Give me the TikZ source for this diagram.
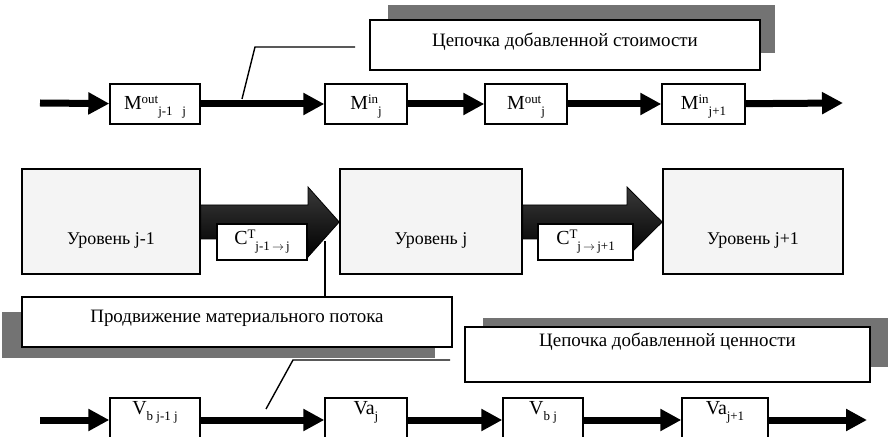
\documentclass[tikz,border=0pt]{standalone}
\usepackage{fontspec}
\setmainfont{Liberation Serif}
\usetikzlibrary{arrows.meta,calc}
\newcommand\spx[1]{\raisebox{0.75ex}{\fontsize{13}{14}\selectfont #1}}
\newcommand\sbx[1]{\raisebox{-0.55ex}{\fontsize{13}{14}\selectfont #1}}
\definecolor{shadowc}{gray}{0.45}
\tikzset{
  flow/.style={line width=7bp, -{Triangle[length=21bp,width=21bp]}},
  mbox/.style={draw, line width=1.4bp, fill=white, inner xsep=2bp, font=\fontsize{20}{22}\selectfont},
  topbox/.style={mbox, minimum height=40bp, inner ysep=4bp, text height=22bp, text depth=10bp},
  botbox/.style={mbox, minimum height=44bp, inner ysep=3bp, text height=14bp, text depth=24bp},
  cbox/.style={mbox, minimum height=36bp, inner ysep=3bp, text height=18bp, text depth=12bp},
  level/.style={draw, line width=1.6bp, fill=gray!9, minimum height=105bp, inner ysep=5bp, text height=71bp, text depth=24bp, font=\fontsize{18}{20}\selectfont},
  banner/.style={draw, line width=1.4bp, fill=white, font=\fontsize{19}{21}\selectfont},
  callout/.style={line width=1.4bp},
  bigarrow/.style={top color=gray!45!black, bottom color=black, draw=black, line width=0.8bp}
}
\begin{document}
\begin{tikzpicture}[x=1bp,y=-1bp]
\useasboundingbox[fill=white] (0,0) rectangle (890,437);

% ---- top banner ----
\fill[shadowc] (388,5) rectangle (775,53);
\node[banner, minimum width=390bp, inner ysep=15bp, text height=12bp, text depth=8bp] (b1) at (565,45) {Цепочка добавленной стоимости};

% ---- top flow row ----
\coordinate (tin) at (40,103);
\coordinate (tout) at (843,103);
\node[topbox, minimum width=90bp] (m1) at (155,104) {M\spx{out}\sbx{j-1\,\,\, j}};
\node[topbox, minimum width=82bp] (m2) at (366,104) {M\spx{in}\sbx{j}};
\node[topbox, minimum width=82bp] (m3) at (526,104) {M\spx{out}\sbx{j}};
\node[topbox, minimum width=83bp] (m4) at (703.5,104) {M\spx{in}\sbx{j+1}};
\draw[flow] (tin) -- (m1);
\draw[flow] (m1) -- (m2);
\draw[flow] (m2) -- (m3);
\draw[flow] (m3) -- (m4);
\draw[flow] (m4) -- (tout);

% callout of top banner
\coordinate (c1a) at (355,47);
\coordinate (c1b) at (255,47);
\coordinate (c1c) at (242,99);
\draw[callout] (c1a) -- (c1b) -- (c1c);

% ---- levels ----
\node[level, minimum width=178bp] (L1) at (111,221.5) {Уровень j-1};
\node[level, minimum width=182bp] (L2) at (431,221.5) {Уровень j};
\node[level, minimum width=180bp] (L3) at (753,221.5) {Уровень j+1};

\shade[bigarrow] (L1.east |- 0,205) -- (308,205) -- (308,187) -- (L2.west |- 0,222) -- (308,257) -- (308,239) -- (L1.east |- 0,239) -- cycle;
\shade[bigarrow] (L2.east |- 0,205) -- (627,205) -- (627,187) -- (L3.west |- 0,222) -- (627,257) -- (627,239) -- (L2.east |- 0,239) -- cycle;

\node[cbox, minimum width=90bp] (cb1) at (262,242) {C\spx{T}\sbx{j-1\,$\rightarrow$\,j}};
\node[cbox, minimum width=95bp] (cb2) at (585.5,242) {C\spx{T}\sbx{j\,$\rightarrow$\,j+1}};

% ---- middle banner ----
\fill[shadowc] (2,312) rectangle (435,358);
\node[banner, minimum width=430bp, inner ysep=14bp, text height=12bp, text depth=10bp] (b2) at (237,322) {Продвижение материального потока};
\coordinate (p1) at (325,241);
\draw[callout] (p1) -- (p1 |- b2.north);

% ---- bottom banner ----
\fill[shadowc] (483,318) rectangle (888,367);
\node[banner, minimum width=405bp, inner ysep=7.5bp, text height=12bp, text depth=28bp] (b3) at (667.5,354.5) {Цепочка добавленной ценности};

% callout of bottom banner
\coordinate (c3a) at (450,360);
\coordinate (c3b) at (293,360);
\coordinate (c3c) at (266,409);
\draw[callout] (c3a) -- (c3b) -- (c3c);

% ---- bottom flow row ----
\coordinate (bin) at (40,420);
\coordinate (bout) at (867,420);
\node[botbox, minimum width=90bp] (v1) at (155,420) {V\sbx{b j-1 j}};
\node[botbox, minimum width=82bp] (v2) at (366,420) {Va\sbx{j}};
\node[botbox, minimum width=80bp] (v3) at (543,420) {V\sbx{b j}};
\node[botbox, minimum width=86bp] (v4) at (725,420) {Va\sbx{j+1}};
\draw[flow] (bin) -- (v1);
\draw[flow] (v1) -- (v2);
\draw[flow] (v2) -- (v3);
\draw[flow] (v3) -- (v4);
\draw[flow] (v4) -- (bout);
\end{tikzpicture}
\end{document}
